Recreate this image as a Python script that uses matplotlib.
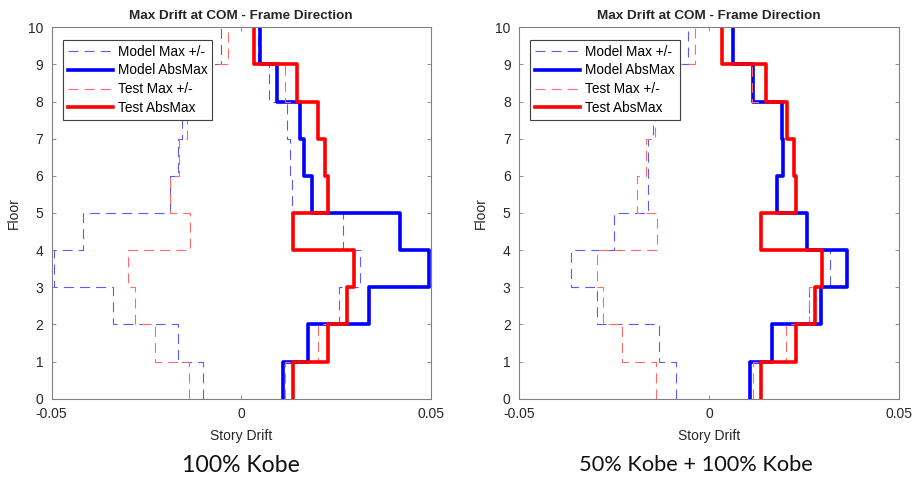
import numpy as np
import matplotlib
matplotlib.use('Agg')
import matplotlib.pyplot as plt

plt.rcParams['font.family'] = ['Liberation Sans', 'DejaVu Sans']

model_color = '#0000FF'
test_color = '#FF0000'
model_dash_color = '#5A5AFF'
test_dash_color = '#FF6A6A'

floors = np.arange(0, 11)

# 100% Kobe (story 1..10, bottom to top)
left_model_pos = [0.0109, 0.0175, 0.0258, 0.0313, 0.0269, 0.0133, 0.0129, 0.0120, 0.0073, 0.0043]
left_model_neg = [-0.0100, -0.0167, -0.0339, -0.0495, -0.0418, -0.0189, -0.0167, -0.0157, -0.0098, -0.0053]
left_model_abs = [0.0109, 0.0175, 0.0337, 0.0495, 0.0418, 0.0186, 0.0164, 0.0155, 0.0095, 0.0050]
left_test_pos = [0.0115, 0.0201, 0.0278, 0.0298, 0.0136, 0.0228, 0.0222, 0.0203, 0.0114, 0.0033]
left_test_neg = [-0.0139, -0.0228, -0.0279, -0.0299, -0.0135, -0.0189, -0.0165, -0.0143, -0.0150, -0.0035]
left_test_abs = [0.0137, 0.0229, 0.0278, 0.0298, 0.0136, 0.0228, 0.0222, 0.0203, 0.0148, 0.0034]

# 50% Kobe + 100% Kobe
right_model_pos = [0.0107, 0.0165, 0.0262, 0.0319, 0.0258, 0.0179, 0.0195, 0.0193, 0.0114, 0.0064]
right_model_neg = [-0.0088, -0.0132, -0.0296, -0.0362, -0.0250, -0.0161, -0.0161, -0.0147, -0.0108, -0.0055]
right_model_abs = [0.0107, 0.0165, 0.0296, 0.0362, 0.0258, 0.0179, 0.0195, 0.0193, 0.0116, 0.0064]
right_test_pos = [0.0116, 0.0202, 0.0262, 0.0298, 0.0136, 0.0230, 0.0225, 0.0204, 0.0114, 0.0035]
right_test_neg = [-0.0140, -0.0228, -0.0279, -0.0296, -0.0136, -0.0189, -0.0165, -0.0143, -0.0151, -0.0036]
right_test_abs = [0.0138, 0.0228, 0.0279, 0.0298, 0.0136, 0.0230, 0.0225, 0.0204, 0.0151, 0.0035]

x_ticks = [-0.05, 0, 0.05]
x_tick_labels = ['-0.05', '0', '0.05']
title = 'Max Drift at COM - Frame Direction'
captions = ['100% Kobe', '50% Kobe + 100% Kobe']


def stairs(values):
    # vertical stairs: each story value spans floor i to i+1
    xs = np.repeat(values, 2)
    ys = np.repeat(floors, 2)[1:-1]
    return xs, ys


def plot_panel(ax, model_pos, model_neg, model_abs, test_pos, test_neg, test_abs):
    dash = (0, (9, 5.5))
    x, y = stairs(model_pos)
    ax.plot(x, y, color=model_dash_color, lw=0.8, linestyle=dash, label='Model Max +/-')
    x, y = stairs(model_neg)
    ax.plot(x, y, color=model_dash_color, lw=0.8, linestyle=dash)
    x, y = stairs(model_abs)
    ax.plot(x, y, color=model_color, lw=2.6, label='Model AbsMax')
    x, y = stairs(test_pos)
    ax.plot(x, y, color=test_dash_color, lw=0.8, linestyle=dash, label='Test Max +/-')
    x, y = stairs(test_neg)
    ax.plot(x, y, color=test_dash_color, lw=0.8, linestyle=dash)
    x, y = stairs(test_abs)
    ax.plot(x, y, color=test_color, lw=2.6, label='Test AbsMax')

    ax.set_xlim(-0.05, 0.05)
    ax.set_ylim(0, 10)
    ax.set_xticks(x_ticks)
    ax.set_xticklabels(x_tick_labels)
    ax.set_yticks(range(0, 11))
    ax.tick_params(direction='in', top=True, right=True, length=3, width=0.6,
                   color='#808080', labelsize=10, labelcolor='#262626', pad=6)
    for s in ax.spines.values():
        s.set_color('#808080')
        s.set_linewidth(0.8)
    ax.set_title(title, fontsize=9.7, fontweight='bold', color='#262626', pad=6)
    ax.set_xlabel('Story Drift', fontsize=10, color='#262626', labelpad=6)
    ax.set_ylabel('Floor', fontsize=10, color='#262626', labelpad=5)

    leg = ax.legend(loc='upper left', bbox_to_anchor=(0.03, 0.966), borderaxespad=0,
                    fontsize=9.8, handlelength=3.3, handletextpad=0.4, labelspacing=0.36,
                    borderpad=0.34, fancybox=False, framealpha=1, edgecolor='#404040')
    leg.get_frame().set_linewidth(0.8)


fig = plt.figure(figsize=(9.21, 4.80), dpi=100)
ax1 = fig.add_axes([0.0561, 0.1694, 0.4118, 0.7738])
ax2 = fig.add_axes([0.5635, 0.1694, 0.4126, 0.7738])

plot_panel(ax1, left_model_pos, left_model_neg, left_model_abs,
           left_test_pos, left_test_neg, left_test_abs)
plot_panel(ax2, right_model_pos, right_model_neg, right_model_abs,
           right_test_pos, right_test_neg, right_test_abs)

fig.text(241 / 921, 1 - 465 / 480, captions[0], ha='center', va='center',
         fontsize=16.6, family=['Lato', 'DejaVu Sans'], color='#111111')
fig.text(696 / 921, 1 - 465 / 480, captions[1], ha='center', va='center',
         fontsize=15.7, family=['Lato', 'DejaVu Sans'], color='#111111')

plt.savefig('out.png', dpi=100)
